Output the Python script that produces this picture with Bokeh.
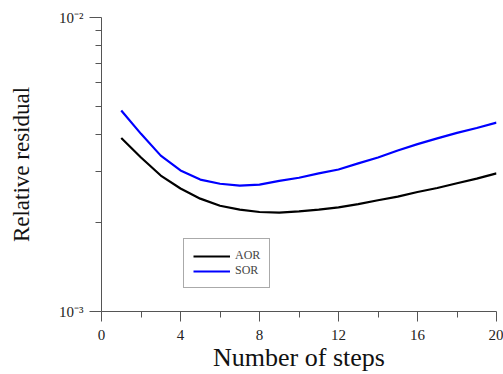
from bokeh.plotting import figure
from bokeh.models import FixedTicker, Legend, LegendItem
from bokeh.embed import file_html
from bokeh.resources import INLINE

steps = list(range(1, 21))
aor = [3.89e-3, 3.34e-3, 2.90e-3, 2.62e-3, 2.42e-3, 2.29e-3, 2.22e-3, 2.18e-3, 2.17e-3, 2.19e-3,
       2.22e-3, 2.26e-3, 2.32e-3, 2.39e-3, 2.46e-3, 2.55e-3, 2.63e-3, 2.73e-3, 2.83e-3, 2.95e-3]
sor = [4.83e-3, 4.02e-3, 3.39e-3, 3.02e-3, 2.81e-3, 2.72e-3, 2.68e-3, 2.70e-3, 2.78e-3, 2.85e-3,
       2.95e-3, 3.04e-3, 3.19e-3, 3.34e-3, 3.53e-3, 3.71e-3, 3.88e-3, 4.05e-3, 4.21e-3, 4.39e-3]
x_ticks = [0, 4, 8, 12, 16, 20]
x_minor = [2, 6, 10, 14, 18]
y_ticks = [0.001, 0.01]
y_minor = [0.002, 0.003, 0.004, 0.005, 0.006, 0.007, 0.008, 0.009]
y_labels = {0.001: "10⁻³", 0.01: "10⁻²"}

FONT = "Liberation Serif"

p = figure(width=503, height=374, frame_width=395, frame_height=294,
           output_backend="svg", toolbar_location=None,
           y_axis_type="log", x_range=(0, 20), y_range=(1e-3, 1e-2),
           min_border_left=101, min_border_right=7, min_border_top=17, min_border_bottom=63)
p.outline_line_color = None
p.xgrid.visible = False
p.ygrid.visible = False

r1 = p.line(steps, aor, line_color="black", line_width=2.2)
r2 = p.line(steps, sor, line_color="#0000FF", line_width=2.2)

for ax in (p.xaxis[0], p.yaxis[0]):
    ax.axis_line_color = "#555555"
    ax.major_tick_line_color = "#555555"
    ax.minor_tick_line_color = "#555555"
    ax.major_tick_in = 0
    ax.minor_tick_in = 0
    ax.major_label_text_font = FONT
    ax.major_label_text_font_size = "15px"
    ax.major_label_text_color = "#222222"
    ax.axis_label_text_font = FONT
    ax.axis_label_text_font_style = "normal"
    ax.axis_label_text_color = "#111111"

p.xaxis.ticker = FixedTicker(ticks=x_ticks, minor_ticks=x_minor)
p.xaxis.major_tick_out = 10
p.xaxis.minor_tick_out = 6
p.xaxis.major_label_standoff = 8
p.xaxis.axis_label = "Number of steps"
p.xaxis.axis_label_text_font_size = "26px"
p.xaxis.axis_label_standoff = 0

p.yaxis.ticker = FixedTicker(ticks=y_ticks, minor_ticks=y_minor)
p.yaxis.major_label_overrides = y_labels
p.yaxis.major_tick_out = 12
p.yaxis.minor_tick_out = 6
p.yaxis.major_label_standoff = 6
p.yaxis.axis_label = "Relative residual"
p.yaxis.axis_label_text_font_size = "23px"
p.yaxis.axis_label_standoff = 22

legend = Legend(items=[LegendItem(label="AOR", renderers=[r1]),
                       LegendItem(label="SOR", renderers=[r2])],
                location=(82, 23), orientation="vertical")
legend.label_text_font = FONT
legend.label_text_font_size = "12px"
legend.glyph_width = 37
legend.glyph_height = 12
legend.label_height = 12
legend.spacing = 0
legend.padding = 9
legend.margin = 0
legend.label_standoff = 5
legend.border_line_color = "#555555"
legend.border_line_width = 1
legend.background_fill_alpha = 1
p.add_layout(legend)

open("out.html", "w").write(file_html(p, INLINE))
